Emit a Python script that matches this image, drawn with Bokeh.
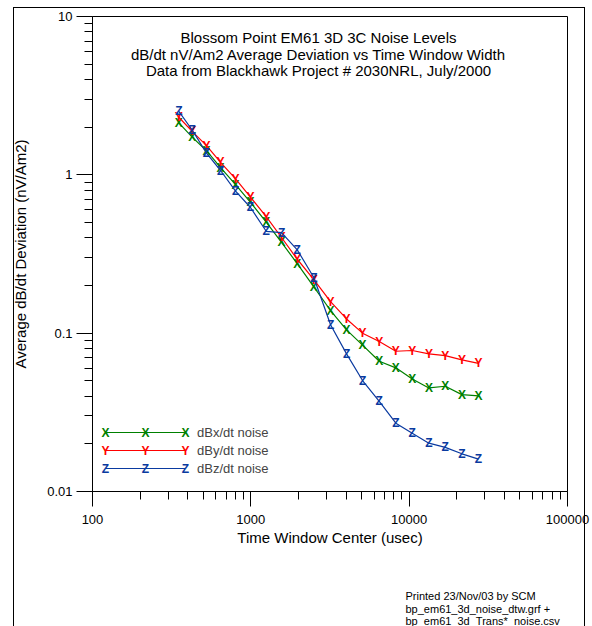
import numpy as np
from bokeh.plotting import figure
from bokeh.models import (ColumnDataSource, Legend, LegendItem, Label, FixedTicker,
                          Title, InlineStyleSheet)
from bokeh.core.properties import value
from bokeh.embed import file_html
from bokeh.resources import INLINE

# ---------------- data ----------------
time_center = [351, 426, 525, 644, 801, 995, 1251, 1563, 1964, 2500,
               3188, 4023, 5077, 6475, 8241, 10460, 13320, 16900, 21530, 27420]
dbx_noise = [2.13, 1.73, 1.42, 1.11, 0.868, 0.671, 0.502, 0.374, 0.275, 0.196,
             0.139, 0.105, 0.084, 0.0665, 0.0604, 0.0514, 0.0451, 0.0462, 0.0409, 0.0402]
dby_noise = [2.31, 1.88, 1.53, 1.20, 0.943, 0.722, 0.545, 0.402, 0.293, 0.218,
             0.158, 0.123, 0.100, 0.0885, 0.0769, 0.0777, 0.0740, 0.0722, 0.0678, 0.0645]
dbz_noise = [2.52, 1.92, 1.37, 1.065, 0.788, 0.622, 0.440, 0.431, 0.336, 0.2245,
             0.113, 0.074, 0.0502, 0.0371, 0.0270, 0.0233, 0.0202, 0.0190, 0.0173, 0.0160]

series_names = ["dBx/dt noise", "dBy/dt noise", "dBz/dt noise"]
series_letters = ["X", "Y", "Z"]
series_colors = ["#008000", "#ff0000", "#0a3aa0"]
series_values = [dbx_noise, dby_noise, dbz_noise]

x_tick_labels = {100: "100", 1000: "1000", 10000: "10000", 100000: "100000"}
y_tick_labels = {0.01: "0.01", 0.1: "0.1", 1: "1", 10: "10"}

title_lines = ["Blossom Point EM61 3D 3C Noise Levels",
               "dB/dt nV/Am2 Average Deviation vs Time Window Width",
               "Data from Blackhawk Project # 2030NRL, July/2000"]
footer_lines = ["Printed 23/Nov/03 by SCM",
                "bp_em61_3d_noise_dtw.grf +",
                "bp_em61_3d_Trans*_noise.csv"]

FONT = "Liberation Sans"

# ---------------- figure ----------------
p = figure(width=592, height=626, x_axis_type="log", y_axis_type="log",
           x_range=(100, 100000), y_range=(0.01, 10),
           output_backend="svg", toolbar_location=None,
           min_border_left=92, min_border_right=25, min_border_top=16,
           min_border_bottom=135)
p.grid.visible = False
p.outline_line_color = "black"
p.outline_line_width = 1
p.background_fill_color = "white"
p.border_fill_color = "white"

# outer page frame (decoration, drawn with CSS over the canvas)
p.stylesheets = [InlineStyleSheet(css=(
    ":host::after{content:'';position:absolute;left:13px;top:7px;"
    "width:572px;height:619px;box-sizing:border-box;"
    "border-left:1.5px solid #000;border-top:1.5px solid #000;"
    "border-right:1.5px solid #000;pointer-events:none;}"))]

def minor_ticks(lo_exp, hi_exp):
    out = []
    for e in range(lo_exp, hi_exp):
        for m in range(2, 10):
            out.append(m * 10.0 ** e)
    return out

p.xaxis.ticker = FixedTicker(ticks=list(x_tick_labels.keys()), minor_ticks=minor_ticks(2, 5))
p.yaxis.ticker = FixedTicker(ticks=list(y_tick_labels.keys()), minor_ticks=minor_ticks(-2, 1))
p.xaxis.major_label_overrides = x_tick_labels
p.yaxis.major_label_overrides = y_tick_labels

for ax in (p.xaxis[0], p.yaxis[0]):
    ax.axis_line_color = "black"
    ax.major_tick_line_color = "black"
    ax.minor_tick_line_color = "black"
    ax.major_tick_in = 0
    ax.minor_tick_in = 0
    ax.minor_tick_out = 8
    ax.major_label_text_font = FONT
    ax.major_label_text_font_size = "13px"
    ax.major_label_text_color = "black"
    ax.axis_label_text_font = FONT
    ax.axis_label_text_font_size = "15px"
    ax.axis_label_text_font_style = "normal"
    ax.axis_label_text_color = "black"

p.yaxis.major_tick_out = 16
p.xaxis.major_tick_out = 15
p.yaxis.major_label_standoff = 4
p.xaxis.major_label_standoff = 8
p.xaxis.axis_label = "Time Window Center (usec)"
p.yaxis.axis_label = "Average dB/dt Deviation (nV/Am2)"
p.xaxis.axis_label_standoff = 2
p.yaxis.axis_label_standoff = 15

# footer (side-panel title, below the x axis); leading empty lines push it down
footer = Title(text="\n".join([""] * 5 + footer_lines), align="left", offset=313,
               standoff=-46, text_font=FONT, text_font_size="11px",
               text_font_style="normal", text_color="black", text_line_height=1.07,
               vertical_align="top")
p.add_layout(footer, "below")

items = []
for name, letter, color, vals in zip(series_names, series_letters, series_colors, series_values):
    src = ColumnDataSource(dict(x=time_center, y=vals, t=[letter] * len(vals)))
    ln = p.line("x", "y", source=src, line_color=color, line_width=1.2)
    p.text("x", "y", text="t", source=src, text_color=color,
           text_font=value(FONT), text_font_style="bold",
           text_font_size=value("12px"), text_align="center",
           text_baseline="middle")
    items.append(LegendItem(label=name, renderers=[ln]))

legend = Legend(items=items, location=(13, 14), glyph_width=80, glyph_height=18,
                label_height=18, spacing=0, padding=0, margin=0, label_standoff=12,
                label_text_font=FONT, label_text_font_size="13px",
                border_line_alpha=0, background_fill_alpha=0)
p.add_layout(legend)

# legend letter markers
for i, (letter, color) in enumerate(zip(series_letters, series_colors)):
    for k in range(3):
        p.add_layout(Label(x=13 + 40 * k, y=59 - 18 * i, x_units="screen", y_units="screen",
                           text=letter, text_color=color, text_font=FONT,
                           text_font_style="bold", text_font_size="12px",
                           text_align="center", text_baseline="middle"))

# title
for i, t in enumerate(title_lines):
    p.add_layout(Label(x=226, y=454 - 16.5 * i, x_units="screen", y_units="screen",
                       text=t, text_font=FONT, text_font_size="15px",
                       text_align="center", text_baseline="middle", text_color="black"))

open("out.html", "w").write(file_html(p, INLINE))
